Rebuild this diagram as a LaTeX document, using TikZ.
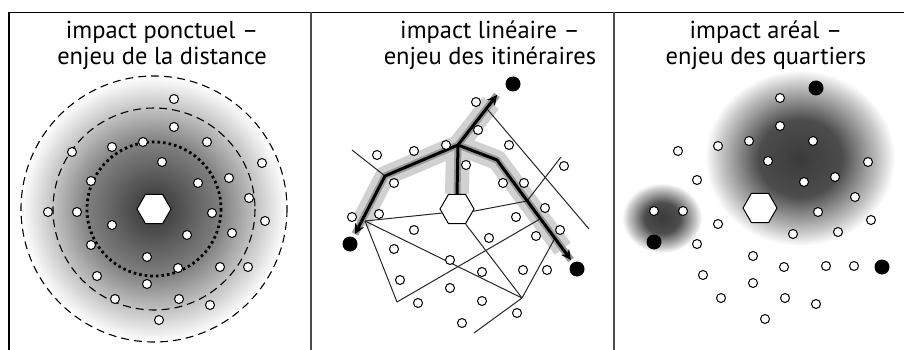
\documentclass[tikz,border=0pt]{standalone}
\usepackage{fontspec}
\setmainfont{PT Sans}
\usepackage{tikz}
\usetikzlibrary{arrows.meta, shapes.geometric, backgrounds}

% grey fall-off of the impact (white reached at the path border)
\pgfdeclareradialshading{halo}{\pgfpoint{0bp}{0bp}}{%
  color(0bp)=(black!80); color(12.5bp)=(black!50); color(19bp)=(black!24); color(25bp)=(white); color(50bp)=(white)}
\pgfdeclareradialshading{tache}{\pgfpoint{0bp}{0bp}}{%
  color(0bp)=(black!77); color(11bp)=(black!70); color(21bp)=(black!22); color(25bp)=(white); color(50bp)=(white)}

% settlements, offsets from the site
\newcommand{\semis}{20/-110, 20/-82, -11/-67, -42/-62, 53/-67, -82/-57, 8/-47,
  108/-46, 75/-31, 44/-26, -63/-28, 95/-11, -106/3, -77/3, 58/4, 111/12,
  -42/16, 78/24, 33/26, -63/36, -7/48, 24/59, 66/58, 94/58, -57/67, -7/75,
  -39/90, 25/90, 56/96, 5/111}
\newcommand{\semisreseau}{19/-107, 21/-79, -11/-64, -43/-58, 52/-64, -80/-54, 9/-44,
  107/-43, 67/-26, 46/-26, -63/-26, 88/-1, -105/8, -78/5, 59/8, 103/21,
  -43/21, 79/27, 32/29, -63/40, -7/51, 25/63, 66/61, 90/61, -57/71, -7/79,
  -39/94, 25/92, 60/104, 5/114}

\begin{document}
\begin{tikzpicture}[
      x=1pt, y=-1pt,
      cadre/.style={line width=1.8pt},
      sep/.style={draw=black!70, line width=1.6pt},
      titre/.style={font=\fontsize{24.5}{26}\selectfont, align=center, inner sep=0pt},
      site/.style={regular polygon, regular polygon sides=6, draw, fill=white, line width=1pt, minimum size=34pt, inner sep=0pt},
      hab/.style={circle, draw, fill=white, line width=1pt, minimum size=9pt, inner sep=0pt},
      pole/.style={circle, fill=black, minimum size=15pt, inner sep=0pt},
      zone/.style={dash pattern=on 8pt off 5pt, line width=1.1pt},
      proche/.style={line width=2.8pt, dash pattern=on 2.6pt off 3pt},
      rue/.style={draw=black!85, line width=1pt},
      trace/.style={draw=black!18, line width=20pt, line join=round},
      ombre/.style={draw=black!40, line width=7pt, line join=round},
      route/.style={line width=3pt, line join=round, -{Stealth[length=10pt, width=10pt, inset=3pt]}},
    ]
    \useasboundingbox (0,0) rectangle (904,350);
    \draw[cadre] (9,350) -- (9,12.5) -- (904,12.5);
    \draw[sep] (311,12.5) -- (311,350);
    \draw[sep] (614,12.5) -- (614,350);

    % impact ponctuel
    \node[titre] (titre1) at (162,45) {impact ponctuel –\\enjeu de la distance};
    \coordinate (c1) at (154,209);
    \shade[shading=halo] (c1) circle[radius=133];
    \draw[zone] (c1) circle[radius=133];
    \draw[zone] (c1) circle[radius=101];
    \draw[proche] (c1) circle[radius=67];
    \node[site] (site1) at (c1) {};
    \foreach \dx/\dy [count=\i] in \semis
      \node[hab] (a\i) at ([shift={(\dx,\dy)}]site1) {};

    % impact lineaire
    \node[titre] (titre2) at (490,45) {impact linéaire –\\enjeu des itinéraires};
    \node[site] (site2) at (457,209) {};
    \coordinate (carrefour) at (458,145);
    \coordinate (coudeO) at (385,176);
    \coordinate (coudeE) at (497,160);
    \coordinate (pointeN) at (497,95);
    \coordinate (pointeO) at (355,234);
    \coordinate (pointeE) at (571,260);
    \coordinate (rueNO) at (352,150);
    \coordinate (noeudO) at (365,221);
    \coordinate (noeudSO) at (397,302);
    \coordinate (noeudS) at (522,298);
    \coordinate (finS) at (474,333);
    \coordinate (diagN) at (488,110);
    \coordinate (diagS) at (589,229);
    \coordinate (branchN) at (561,157);
    \coordinate (branchS) at (527,201);
    \coordinate (raccord1) at (540,219);
    \coordinate (raccord2) at (555,238);
    \begin{scope}[on background layer]
      \draw[trace, shorten <=12pt, shorten >=14pt] (pointeO) -- (coudeO) -- (carrefour) -- (coudeE) -- (pointeE);
      \draw[trace, shorten >=10pt] (carrefour) -- (pointeN);
      \draw[trace, line width=24pt] (carrefour) -- (site2.north);
      \draw[ombre] (pointeO) -- (coudeO) -- (carrefour) -- (coudeE) -- (pointeE);
      \draw[ombre] (carrefour) -- (pointeN);
      \draw[ombre] (carrefour) -- (site2.north);
      \draw[rue] (rueNO) -- (coudeO);
      \draw[rue] (noeudO) -- (site2.195);
      \draw[rue] (noeudO) -- (noeudSO);
      \draw[rue] (noeudO) -- (noeudS);
      \draw[rue] (noeudSO) -- (raccord1);
      \draw[rue] (site2.300) -- (noeudS);
      \draw[rue] (noeudS) -- (finS);
      \draw[rue] (noeudS) -- (raccord2);
      \draw[rue] (site2.352) -- (branchS);
      \draw[rue] (branchN) -- (branchS);
      \draw[rue] (diagN) -- (diagS);
    \end{scope}
    \draw[route] (carrefour) -- (coudeO) -- (pointeO);
    \draw[route] (carrefour) -- (pointeN);
    \draw[route] (carrefour) -- (coudeE) -- (pointeE);
    \draw[line width=3pt] (carrefour) -- (site2.north);
    \foreach \dx/\dy [count=\i] in \semisreseau
      \node[hab] (b\i) at ([shift={(\dx,\dy)}]site2) {};
    \node[pole] (poleN) at (513,84) {};
    \node[pole] (poleO) at (350,244) {};
    \node[pole] (poleE) at (577,269) {};

    % impact areal
    \node[titre] (titre3) at (766,45) {impact aréal –\\enjeu des quartiers};
    \shade[shading=tache] (800,158) ellipse[x radius=95, y radius=88];
    \shade[shading=tache] (662,218) ellipse[x radius=40, y radius=35];
    \node[site] (site3) at (760,208) {};
    \foreach \dx/\dy [count=\i] in \semis
      \node[hab] (c\i) at ([shift={(\dx,\dy)}]site3) {};
    \node[pole] (quartierN) at (816,88) {};
    \node[pole] (quartierO) at (654,242) {};
    \node[pole] (quartierE) at (882,267) {};
  \end{tikzpicture}
\end{document}
